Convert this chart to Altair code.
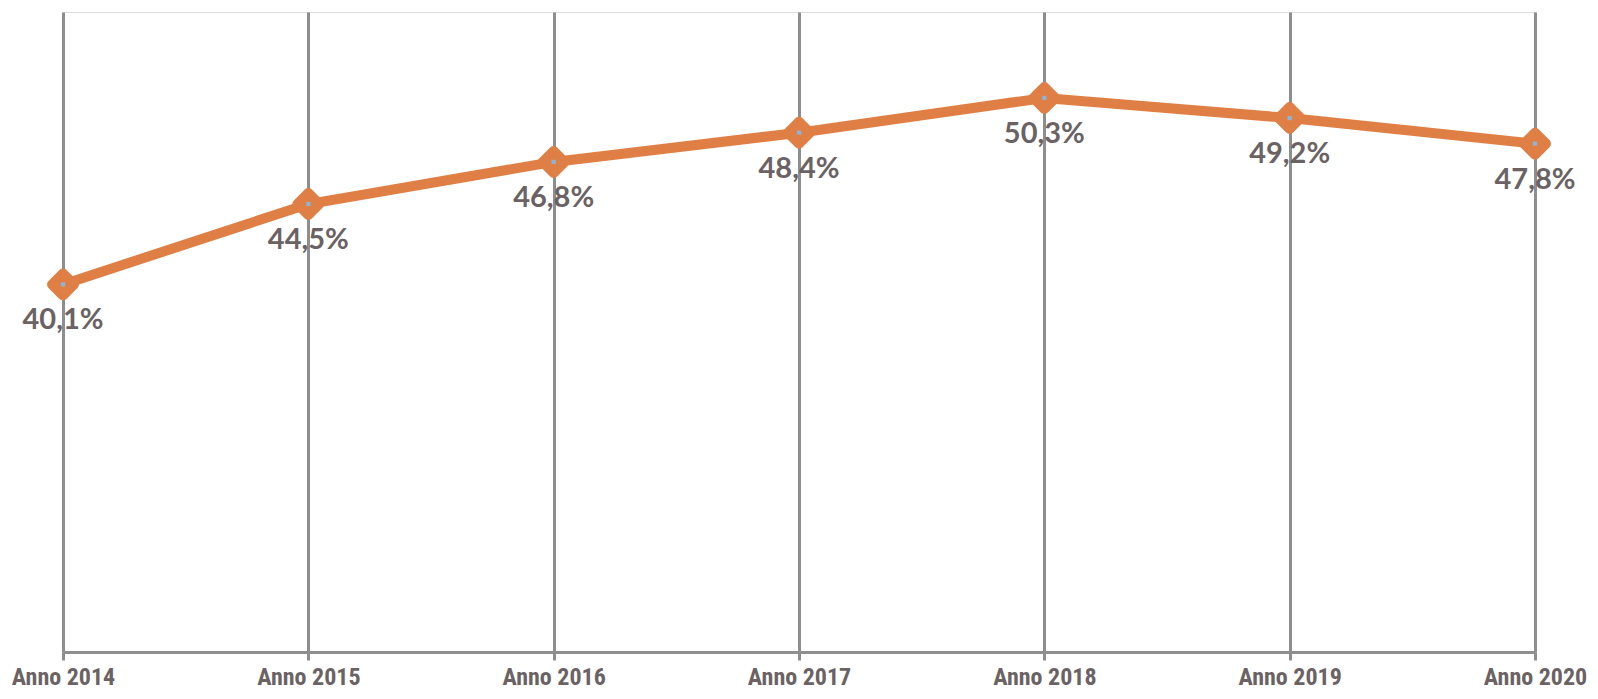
import altair as alt
import pandas as pd

anni = ["Anno 2014", "Anno 2015", "Anno 2016", "Anno 2017", "Anno 2018", "Anno 2019", "Anno 2020"]
valori = [40.1, 44.5, 46.8, 48.4, 50.3, 49.2, 47.8]
etichette = ["40,1%", "44,5%", "46,8%", "48,4%", "50,3%", "49,2%", "47,8%"]

df = pd.DataFrame({"anno": anni, "valore": valori, "etichetta": etichette})

ORANGE = "#E07F45"
GRAY = "#8E8E8E"
TEXT = "#6B6264"

x = alt.X(
    "anno:O",
    sort=anni,
    scale=alt.Scale(type="point", padding=0),
    axis=alt.Axis(
        title=None,
        labelAngle=0,
        grid=True,
        gridColor=GRAY,
        gridWidth=3,
        domainColor=GRAY,
        domainWidth=3,
        tickColor=GRAY,
        tickWidth=3,
        tickSize=8,
        labelFont="Liberation Sans Narrow, Roboto Condensed, Liberation Sans",
        labelFontWeight="bold",
        labelFontSize=24,
        labelColor=TEXT,
        labelPadding=5,
        labelOverlap=False,
        labelBound=False,
        labelFlush=False,
    ),
)
y = alt.Y("valore:Q", scale=alt.Scale(domain=[20, 55], nice=False, zero=False), axis=None)

base = alt.Chart(df).encode(x=x, y=y)

line = base.mark_line(color=ORANGE, strokeWidth=10)
pts = base.mark_point(
    shape="diamond", filled=True, color=ORANGE, size=480,
    stroke=ORANGE, strokeWidth=10, strokeJoin="round", opacity=1
)
circ = base.mark_point(shape="circle", filled=True, color=ORANGE, size=560, opacity=1)
dots = base.mark_point(shape="square", filled=True, color="#8DB3D6", size=18, opacity=1)
labels = base.mark_text(
    dy=36, fontSize=29, fontWeight="bold", font="Lato, Open Sans, sans-serif", color=TEXT
).encode(text="etichetta:N")

chart = (
    alt.layer(line, circ, pts, dots, labels)
    .properties(
        width=1472,
        height=640,
        autosize=alt.AutoSizeParams(type="none"),
        padding={"left": 55, "right": 55, "top": 4, "bottom": 38},
    )
    .configure_view(stroke=None)
    .configure(background="white")
)

chart.save("out.html", embed_options={"renderer": "svg", "actions": False})
